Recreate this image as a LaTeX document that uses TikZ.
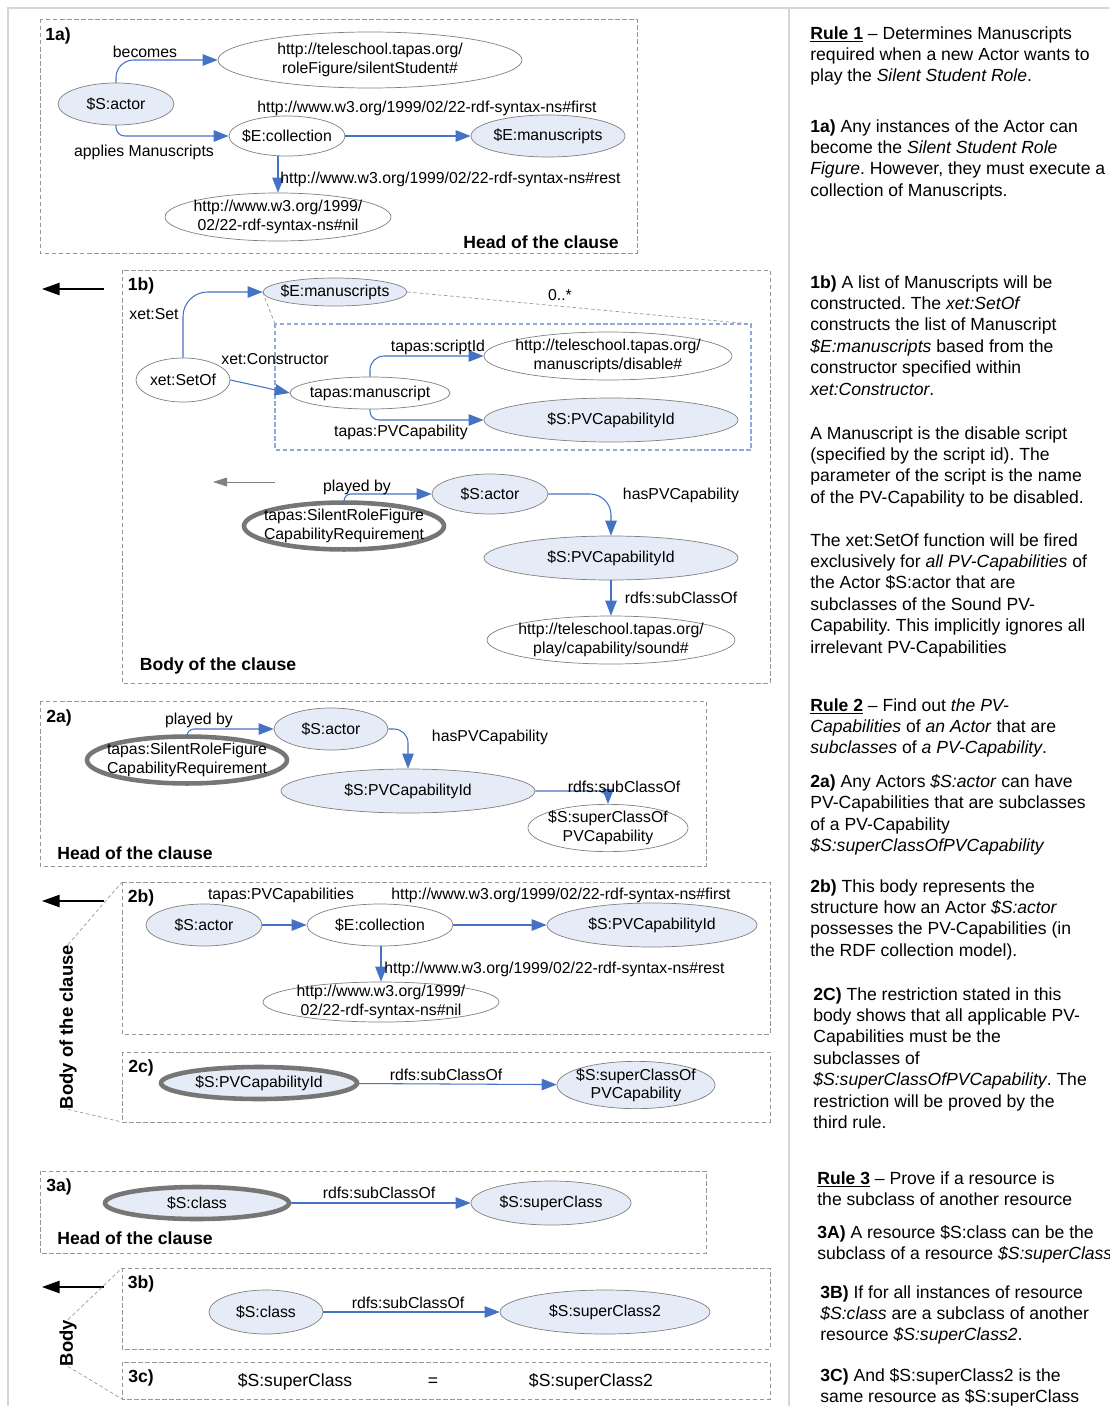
\documentclass[tikz,border=0pt]{standalone}
\usepackage{fontspec}
\setmainfont{Liberation Sans}
\usetikzlibrary{arrows.meta,shapes.geometric,positioning}
\definecolor{rdfblue}{RGB}{230,236,247}
\definecolor{rdfline}{RGB}{128,128,128}
\definecolor{rdfarrow}{RGB}{68,114,196}
\definecolor{rdfthick}{RGB}{118,118,118}
\definecolor{rdfbox}{RGB}{150,150,150}
\definecolor{rdfinner}{RGB}{142,170,219}
\definecolor{rdfframe}{RGB}{214,214,214}
\frenchspacing
\tikzset{
  sz/.style 2 args={minimum width=#1*0.02cm, minimum height=#2*0.02cm},
  res/.style={ellipse, draw=rdfline, fill=white, inner xsep=-3pt, inner ysep=0pt,
              align=center, font=\fontsize{9}{10.5}\selectfont},
  var/.style={res, fill=rdfblue},
  goal/.style={draw=rdfthick, line width=2.6pt},
  rel/.style={draw=rdfarrow, line width=0.6pt, -{Triangle[length=8.5pt,width=6.5pt]}},
  lbl/.style={font=\fontsize{9}{10.5}\selectfont, inner sep=0pt, yshift=-0.8pt},
  tag/.style={font=\fontsize{10}{12}\selectfont\bfseries, inner sep=0pt, yshift=-0.8pt},
  bodytag/.style={font=\fontsize{10.5}{12}\selectfont\bfseries, inner sep=0pt, rotate=90},
  panel/.style={draw=rdfbox, line width=0.5pt, dash pattern=on 2.5pt off 1.5pt},
  inbox/.style={draw=rdfinner, line width=0.7pt, dash pattern=on 2.5pt off 1.5pt},
  link/.style={draw=rdfline!80, line width=0.4pt, dash pattern=on 2pt off 1.5pt},
  back/.style={draw=black, line width=0.8pt, -{Triangle[length=10pt,width=7pt]}},
  hint/.style={draw=rdfline, line width=0.5pt, -{Triangle[length=8pt,width=5pt]}},
  frame/.style={draw=rdfframe, line width=1pt},
  note/.style={anchor=north west, align=left, inner sep=0pt,
               font=\fontsize{10}{12.2}\selectfont, execute at begin node=\strut},
}
\begin{document}
\begin{tikzpicture}[x=0.02cm,y=-0.02cm]
\useasboundingbox[fill=white] (0,0) rectangle (1109,1406);
% page frame
\draw[frame] (8,1406) -- (8,8) -- (1109,8);
\draw[frame] (789,8) -- (789,1406);

% ---------------- Rule 1 : head (1a)
\draw[panel] (40,19) rectangle (637,253);
\node[tag] (t1a) at (58,35) {1a)};
\node[var, sz={116}{42}] (a1actor) at (116,104) {\$S:actor};
\node[res, sz={304}{56}] (a1silent) at (370,60) {http://teleschool.tapas.org/\\roleFigure/silentStudent\#};
\node[res, sz={116}{40}] (a1coll) at (287,136) {\$E:collection};
\node[var, sz={154}{42}] (a1man) at (548,136) {\$E:manuscripts};
\node[res, sz={226}{48}] (a1nil) at (278,217) {http://www.w3.org/1999/\\02/22-rdf-syntax-ns\#nil};
\draw[rel, rounded corners=10pt] (a1actor.north) |- (a1silent.west);
\draw[rel, rounded corners=5pt] (a1actor.south) |- (a1coll.west);
\draw[rel] (a1coll) -- (a1man);
\draw[rel] (a1nil.north |- a1coll.south) -- (a1nil.north);
\node[lbl] (l1a1) at (145,50) {becomes};
\node[lbl] (l1a2) at (144,151) {applies Manuscripts};
\node[lbl] (l1a3) at (427,107) {http://www.w3.org/1999/02/22-rdf-syntax-ns\#first};
\node[lbl, anchor=west] (l1a4) at (280,178) {http://www.w3.org/1999/02/22-rdf-syntax-ns\#rest};
\node[tag] (h1a) at (541,241) {Head of the clause};

% ---------------- Rule 1 : body (1b)
\coordinate (r1from) at (104,289);
\coordinate (r1to) at (42,289);
\draw[back] (r1from) -- (r1to);
\draw[panel] (122,270) rectangle (770,683);
\node[tag] (t1b) at (141,285) {1b)};
\coordinate (ibnw) at (275,324);
\coordinate (ibne) at (751,324);
\draw[inbox] (275,324) rectangle (751,450);
\node[var, sz={144}{28}] (b1man) at (335,292) {\$E:manuscripts};
\node[res, sz={94}{44}] (b1setof) at (183,380) {xet:SetOf};
\node[res, sz={160}{32}] (b1ms) at (370,393) {tapas:manuscript};
\node[res, sz={248}{48}] (b1dis) at (608,356) {http://teleschool.tapas.org/\\manuscripts/disable\#};
\node[var, sz={254}{44}] (b1pv) at (611,420) {\$S:PVCapabilityId};
\draw[link] (b1man.west) -- (ibnw);
\draw[link] (b1man.east) -- (ibne);
\draw[rel, rounded corners=14pt] (b1setof.north) |- (b1man.west);
\draw[rel] (b1setof.east) -- (b1ms.west);
\draw[rel, rounded corners=8pt] (b1ms.north) |- (b1dis.west);
\draw[rel, rounded corners=5pt] (b1ms.south) |- (b1pv.west);
\node[lbl] (l1b1) at (154,313) {xet:Set};
\node[lbl] (l1b2) at (560,294) {0..*};
\node[lbl] (l1b3) at (275,358) {xet:Constructor};
\node[lbl] (l1b4) at (438,346) {tapas:scriptId};
\node[lbl] (l1b5) at (401,431) {tapas:PVCapability};

\coordinate (g1from) at (275,482);
\coordinate (g1to) at (213,482);
\draw[hint] (g1from) -- (g1to);
\node[res, goal, inner xsep=-5.5pt, sz={200}{45}] (b1srf) at (344,526) {tapas:SilentRoleFigure\\CapabilityRequirement};
\node[var, sz={116}{40}] (b1actor) at (490,494) {\$S:actor};
\node[var, sz={254}{44}] (b1pv2) at (611,558) {\$S:PVCapabilityId};
\node[res, sz={248}{48}] (b1snd) at (611,640) {http://teleschool.tapas.org/\\play/capability/sound\#};
\draw[rel, rounded corners=4pt] (b1srf.north) |- (b1actor.west);
\draw[rel, rounded corners=12pt] (b1actor.east) -| (b1pv2.north);
\draw[rel] (b1pv2) -- (b1snd);
\node[lbl] (l1b6) at (357,486) {played by};
\node[lbl] (l1b7) at (681,494) {hasPVCapability};
\node[lbl] (l1b8) at (681,596) {rdfs:subClassOf};
\node[tag] (h1b) at (218,665) {Body of the clause};

% ---------------- Rule 2 : head (2a)
\draw[panel] (40,701) rectangle (706,866);
\node[tag] (t2a) at (59,717) {2a)};
\node[res, goal, inner xsep=-5.5pt, sz={200}{45}] (a2srf) at (187,760) {tapas:SilentRoleFigure\\CapabilityRequirement};
\node[var, sz={114}{42}] (a2actor) at (331,729) {\$S:actor};
\node[var, sz={254}{44}] (a2pv) at (408,791) {\$S:PVCapabilityId};
\node[res, sz={160}{46}] (a2sup) at (608,828) {\$S:superClassOf\\PVCapability};
\draw[rel, rounded corners=4pt] (a2srf.north) |- (a2actor.west);
\draw[rel, rounded corners=8pt] (a2actor.east) -| (a2pv.north);
\draw[rel, rounded corners=6pt] (a2pv.east) -| (a2sup.north);
\node[lbl] (l2a1) at (199,719) {played by};
\node[lbl] (l2a2) at (490,736) {hasPVCapability};
\node[lbl] (l2a3) at (624,785) {rdfs:subClassOf};
\node[tag] (h2a) at (135,852) {Head of the clause};

% ---------------- Rule 2 : body (2b, 2c)
\coordinate (r2from) at (104,901);
\coordinate (r2to) at (42,901);
\draw[back] (r2from) -- (r2to);
\draw[panel] (122,882) rectangle (770,1034);
\draw[panel] (122,1052) rectangle (770,1122);
\coordinate (p2bnw) at (122,882);
\coordinate (p2csw) at (122,1122);
\node[bodytag] (body2) at (68,1027) {Body of the clause};
\draw[link] (body2.east) -- (p2bnw);
\draw[link] (body2.west) -- (p2csw);

\node[tag] (t2b) at (141,897) {2b)};
\node[var, sz={116}{42}] (b2actor) at (204,925) {\$S:actor};
\node[res, sz={146}{42}] (b2coll) at (380,925) {\$E:collection};
\node[var, sz={210}{44}] (b2pv) at (652,925) {\$S:PVCapabilityId};
\node[res, inner ysep=-2pt, sz={236}{40}] (b2nil) at (381,1002) {http://www.w3.org/1999/\\02/22-rdf-syntax-ns\#nil};
\draw[rel] (b2actor) -- (b2coll);
\draw[rel] (b2coll) -- (b2pv);
\draw[rel] (b2nil.north |- b2coll.south) -- (b2nil.north);
\node[lbl] (l2b1) at (281,894) {tapas:PVCapabilities};
\node[lbl] (l2b2) at (561,894) {http://www.w3.org/1999/02/22-rdf-syntax-ns\#first};
\node[lbl, anchor=west] (l2b3) at (384,968) {http://www.w3.org/1999/02/22-rdf-syntax-ns\#rest};

\node[tag] (t2c) at (141,1067) {2c)};
\node[var, goal, sz={196}{32}] (c2pv) at (259,1083) {\$S:PVCapabilityId};
\node[var, sz={158}{46}] (c2sup) at (636,1085) {\$S:superClassOf\\PVCapability};
\draw[rel] (c2pv) -- (c2sup);
\node[lbl] (l2c1) at (446,1073) {rdfs:subClassOf};

% ---------------- Rule 3 : head (3a)
\draw[panel] (40,1171) rectangle (706,1253);
\node[tag] (t3a) at (59,1186) {3a)};
\node[var, goal, sz={184}{32}] (a3cls) at (197,1203) {\$S:class};
\node[var, sz={160}{44}] (a3sup) at (551,1203) {\$S:superClass};
\draw[rel] (a3cls) -- (a3sup);
\node[lbl] (l3a1) at (379,1191) {rdfs:subClassOf};
\node[tag] (h3a) at (135,1237) {Head of the clause};

% ---------------- Rule 3 : body (3b, 3c)
\coordinate (r3from) at (104,1287);
\coordinate (r3to) at (42,1287);
\draw[back] (r3from) -- (r3to);
\draw[panel] (122,1268) rectangle (770,1349);
\draw[panel] (122,1362) rectangle (770,1399);
\coordinate (p3bnw) at (122,1268);
\coordinate (p3csw) at (122,1399);
\node[bodytag] (body3) at (68,1343) {Body};
\draw[link] (body3.east) -- (p3bnw);
\draw[link] (body3.west) -- (p3csw);

\node[tag] (t3b) at (141,1283) {3b)};
\node[var, sz={114}{44}] (b3cls) at (266,1312) {\$S:class};
\node[var, sz={210}{44}] (b3sup) at (605,1312) {\$S:superClass2};
\draw[rel] (b3cls) -- (b3sup);
\node[lbl] (l3b1) at (408,1301) {rdfs:subClassOf};

\node[tag] (t3c) at (141,1377) {3c)};
\node[lbl, font=\fontsize{10}{12}\selectfont] (c3a) at (295,1380) {\$S:superClass};
\node[lbl, font=\fontsize{10}{12}\selectfont] (c3eq) at (433,1381) {=};
\node[lbl, font=\fontsize{10}{12}\selectfont] (c3b) at (591,1380) {\$S:superClass2};

% ---------------- explanations
\node[note] (n1) at (810,26) {\underline{\textbf{Rule 1}} \textendash{} Determines Manuscripts\\
  required when a new Actor wants to\\ play the \textit{Silent Student Role}.};
\node[note] (n1a) at (810,119) {\textbf{1a)} Any instances of the Actor can\\
  become the \textit{Silent Student Role}\\ \textit{Figure}. However, they must execute a\\
  collection of  Manuscripts.};
\node[note] (n1b) at (810,275) {\textbf{1b)} A list of Manuscripts will be\\
  constructed. The \textit{xet:SetOf}\\ constructs the list of Manuscript\\
  \textit{\$E:manuscripts} based from the\\ constructor specified within\\ \textit{xet:Constructor}.};
\node[note] (n1c) at (810,426) {A Manuscript is the disable script\\
  (specified by the script id). The\\ parameter of the script is the name\\
  of the PV-Capability to be disabled.};
\node[note] (n1d) at (810,533) {The xet:SetOf function will be fired\\
  exclusively for \textit{all PV-Capabilities} of\\ the Actor \$S:actor that are\\
  subclasses of the Sound PV-\\ Capability. This implicitly ignores all\\
  irrelevant PV-Capabilities};
\node[note] (n2) at (810,698) {\underline{\textbf{Rule 2}} \textendash{} Find out \textit{the PV-}\\
  \textit{Capabilities} of \textit{an Actor} that are\\ \textit{subclasses} of \textit{a PV-Capability}.};
\node[note] (n2a) at (810,774) {\textbf{2a)} Any Actors \textit{\$S:actor} can have\\
  PV-Capabilities that are subclasses\\ of a PV-Capability\\
  \textit{\$S:superClassOfPVCapability}};
\node[note] (n2b) at (810,879) {\textbf{2b)} This body represents the\\
  structure how an Actor \textit{\$S:actor}\\ possesses the PV-Capabilities (in\\
  the RDF collection model).};
\node[note] (n2c) at (813,987) {\textbf{2C)} The restriction stated in this\\
  body shows that all applicable PV-\\ Capabilities must be the\\ subclasses of\\
  \textit{\$S:superClassOfPVCapability}. The\\ restriction will be proved by the\\ third rule.};
\node[note] (n3) at (817,1171) {\underline{\textbf{Rule 3}} \textendash{} Prove if a resource is\\
  the subclass of another resource};
\node[note] (n3a) at (817,1225) {\textbf{3A)} A resource \$S:class can be the\\
  subclass of a resource \textit{\$S:superClass}};
\node[note] (n3b) at (820,1285) {\textbf{3B)} If for all instances of resource\\
  \textit{\$S:class} are a subclass of another\\ resource \textit{\$S:superClass2}.};
\node[note] (n3c) at (820,1368) {\textbf{3C)} And \$S:superClass2 is the\\
  same resource as \$S:superClass};
\end{tikzpicture}
\end{document}
